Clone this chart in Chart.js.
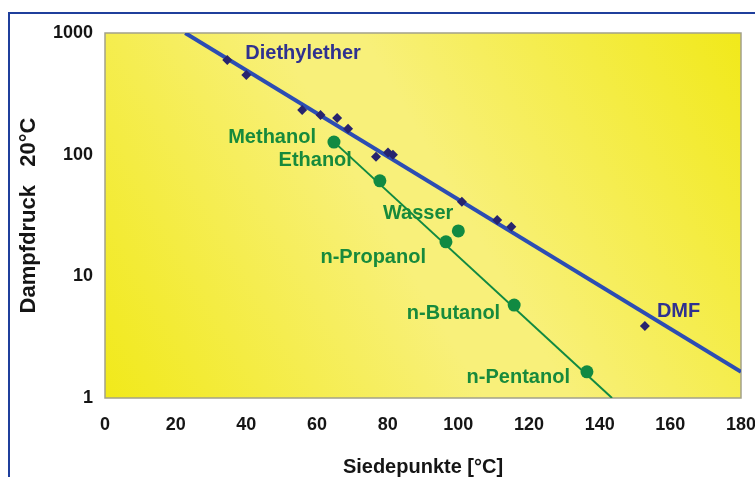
<!DOCTYPE html>
<html>
<head>
<meta charset="utf-8">
<script src="https://cdn.jsdelivr.net/npm/chart.js@4.4.1/dist/chart.umd.min.js"></script>
<style>
  html, body { margin: 0; padding: 0; background: #fff; overflow: hidden; }
  #wrap { position: relative; width: 755px; height: 477px; }
  #chart { position: absolute; left: 0; top: 0; }
  #frame { position: absolute; left: 8px; top: 12px; width: 770px; height: 490px;
           border: 2.5px solid #1f3f9c; pointer-events: none; }
</style>
</head>
<body>
<div id="wrap">
  <canvas id="chart" width="755" height="477"></canvas>
  <div id="frame"></div>
</div>
<script>
// Siedepunkt [°C] / Dampfdruck bei 20°C
const solventBp = [34.6, 40, 55.8, 61, 65.7, 68.8, 76.7, 80.1, 81.5, 101, 111, 115, 152.8];
const solventVp = [600, 452, 233, 212, 200, 163, 96, 104, 100, 41, 29, 25.5, 3.9];

const alcoholNames = ['Methanol', 'Ethanol', 'n-Propanol', 'n-Butanol', 'n-Pentanol'];
const alcoholBp = [64.8, 77.8, 96.5, 115.8, 136.4];
const alcoholVp = [127, 61, 19.2, 5.8, 1.64];

const waterBp = [100];
const waterVp = [23.6];

// Ausgleichsgeraden (Endpunkte)
const etherFitBp = [22.7, 180];
const etherFitVp = [1000, 1.64];
const alcoholFitBp = [64.7, 143.5];
const alcoholFitVp = [128, 1];

const xTicks = [0, 20, 40, 60, 80, 100, 120, 140, 160, 180];
const yTicks = [1, 10, 100, 1000];

const pts = (xs, ys) => xs.map((x, i) => ({ x, y: ys[i] }));

const BLUE = '#2c4db3', NAVY = '#27246e', LBL_BLUE = '#2f3190';
const GREEN = '#118a42', LBL_GREEN = '#178a3c';
const fam = "Arial, 'Liberation Sans', sans-serif";
const tickFont = { family: fam, size: 18, weight: 'bold' };

// label -> [dataset, index, dx, dy, align, colour]
const labelSpec = [
  ['Diethylether', 0, 0, 18, -7, 'left', LBL_BLUE],
  ['DMF', 0, 12, 12, -15, 'left', LBL_BLUE],
  [alcoholNames[0], 1, 0, -18, -5, 'right', LBL_GREEN],
  [alcoholNames[1], 1, 1, -28, -20, 'right', LBL_GREEN],
  [alcoholNames[2], 1, 2, -20, 16, 'right', LBL_GREEN],
  [alcoholNames[3], 1, 3, -14, 8, 'right', LBL_GREEN],
  [alcoholNames[4], 1, 4, -17, 6, 'right', LBL_GREEN],
  ['Wasser', 2, 0, -5, -17, 'right', LBL_GREEN]
];

const plotBg = {
  id: 'plotBg',
  beforeDatasetsDraw(chart) {
    const { ctx, chartArea: a } = chart;
    ctx.save();
    const g = ctx.createLinearGradient(a.left, a.bottom, a.right, a.top);
    g.addColorStop(0, '#f1e91a');
    g.addColorStop(0.45, '#f8f07a');
    g.addColorStop(0.55, '#f8f07a');
    g.addColorStop(1, '#f1e91a');
    ctx.fillStyle = g;
    ctx.fillRect(a.left, a.top, a.right - a.left, a.bottom - a.top);
    ctx.strokeStyle = '#a3a18a';
    ctx.lineWidth = 1.5;
    ctx.strokeRect(a.left, a.top, a.right - a.left, a.bottom - a.top);
    ctx.restore();
  }
};

const pointLabels = {
  id: 'pointLabels',
  afterDatasetsDraw(chart) {
    const ctx = chart.ctx;
    ctx.save();
    ctx.font = 'bold 20px ' + fam;
    ctx.textBaseline = 'middle';
    labelSpec.forEach(([txt, ds, idx, dx, dy, align, col]) => {
      const el = chart.getDatasetMeta(ds).data[idx];
      ctx.fillStyle = col;
      ctx.textAlign = align;
      ctx.fillText(txt, el.x + dx, el.y + dy);
    });
    ctx.restore();
  }
};

new Chart(document.getElementById('chart'), {
  type: 'scatter',
  data: {
    datasets: [
      { label: 'Lösungsmittel', data: pts(solventBp, solventVp), pointStyle: 'rectRot',
        pointRadius: 5, backgroundColor: NAVY, borderColor: NAVY, borderWidth: 0, order: 1 },
      { label: 'Alkohole', data: pts(alcoholBp, alcoholVp), pointStyle: 'circle',
        pointRadius: 6.5, backgroundColor: GREEN, borderColor: GREEN, borderWidth: 0, order: 1 },
      { label: 'Wasser', data: pts(waterBp, waterVp), pointStyle: 'circle',
        pointRadius: 6.5, backgroundColor: GREEN, borderColor: GREEN, borderWidth: 0, order: 1 },
      { label: 'Fit Ether', data: pts(etherFitBp, etherFitVp), showLine: true, pointRadius: 0,
        borderColor: BLUE, borderWidth: 4, order: 2 },
      { label: 'Fit Alkohole', data: pts(alcoholFitBp, alcoholFitVp), showLine: true, pointRadius: 0,
        borderColor: GREEN, borderWidth: 2, order: 2 }
    ]
  },
  options: {
    responsive: false,
    animation: false,
    layout: { padding: { left: 0, right: 14, top: 33, bottom: 0 } },
    plugins: { legend: { display: false }, tooltip: { enabled: false } },
    scales: {
      x: {
        type: 'linear', min: 0, max: 180,
        afterBuildTicks: s => { s.ticks = xTicks.map(v => ({ value: v })); },
        afterFit: s => { s.height = 79; s.paddingLeft = 0; s.paddingRight = 0; },
        grid: { display: false, drawTicks: false }, border: { display: false },
        ticks: { font: tickFont, color: '#151515', padding: 16, maxRotation: 0 },
        title: { display: true, text: 'Siedepunkte [°C]', color: '#151515', padding: { top: 0, bottom: -2 },
                 font: { family: fam, size: 20, weight: 'bold' } }
      },
      y: {
        type: 'logarithmic', min: 1, max: 1000,
        afterBuildTicks: s => { s.ticks = yTicks.map(v => ({ value: v })); },
        afterFit: s => { s.width = 105; s.paddingTop = 0; s.paddingBottom = 0; },
        grid: { display: false, drawTicks: false }, border: { display: false },
        ticks: { font: tickFont, color: '#151515', padding: 12, callback: v => String(v) },
        title: { display: true, text: 'Dampfdruck   20°C', color: '#151515', padding: { top: 16, bottom: 0 },
                 font: { family: fam, size: 22, weight: 'bold' } }
      }
    }
  },
  plugins: [plotBg, pointLabels]
});
</script>
</body>
</html>
